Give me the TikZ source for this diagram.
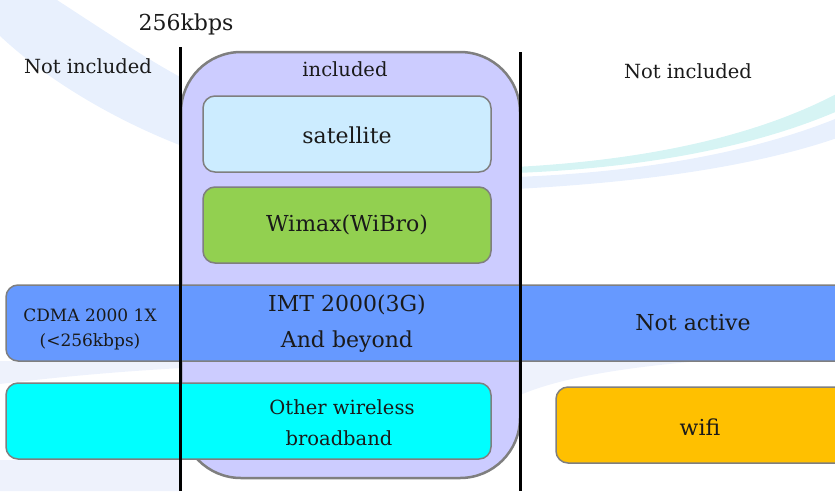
\documentclass[tikz,border=0pt]{standalone}
\usepackage{fontspec}
\setmainfont{DejaVu Serif}
\definecolor{lav}{HTML}{CCCCFF}
\definecolor{satc}{HTML}{CCECFF}
\definecolor{grn}{HTML}{92D050}
\definecolor{imtc}{HTML}{6699FF}
\definecolor{cyn}{HTML}{00FFFF}
\definecolor{org}{HTML}{FFC000}
\definecolor{boxgray}{HTML}{7F7F7F}
\definecolor{txt}{HTML}{1A1A1A}
\definecolor{swA}{HTML}{E8F0FD}
\definecolor{swB}{HTML}{D6F4F4}
\definecolor{swC}{HTML}{EEF2FC}
\begin{document}
\begin{tikzpicture}[x=1pt,y=-1pt,
  box/.style={draw=boxgray, line width=1.5pt, rounded corners=12pt, inner sep=0pt},
  lbl/.style={text=txt, inner sep=0pt, align=center},
  fbig/.style={font=\fontsize{22}{26}\selectfont},
  fmid/.style={font=\fontsize{19.5}{31}\selectfont},
  fsmall/.style={font=\fontsize{17}{27}\selectfont},
  divider/.style={line width=3pt, black}]
\useasboundingbox (0,0) rectangle (835,491);
\begin{scope}
\clip (0,0) rectangle (835,491);
% background swooshes
\fill[swA] (0,0) -- (57,0) .. controls (100,28) and (145,58) .. (182,78)
  -- (182,146) .. controls (110,118) and (45,78) .. (0,36) -- cycle;
\fill[swB] (515,167) .. controls (650,160) and (760,135) .. (840,92)
  -- (840,110) .. controls (760,145) and (650,168) .. (515,173) -- cycle;
\fill[swA] (515,177) .. controls (650,172) and (760,150) .. (840,117)
  -- (840,137) .. controls (760,165) and (650,182) .. (515,189) -- cycle;
\fill[swC] (0,361) -- (182,361) -- (182,368) .. controls (110,372) and (50,378) .. (0,384) -- cycle;
\fill[swC] (0,460) -- (182,460) -- (182,491) -- (0,491) -- (0,486) -- cycle;
\fill[swC] (520,361) -- (700,361) .. controls (620,368) and (560,378) .. (520,395) -- cycle;
% main shapes
\node[box, fill=lav, rounded corners=60pt, line width=2.5pt,
  minimum width=339pt, minimum height=426pt] (incl) at (350.5,265) {};
\node[box, fill=satc, minimum width=288pt, minimum height=76pt] (sat) at (347,134) {};
\node[box, fill=grn, minimum width=288pt, minimum height=76pt] (wimax) at (347,225) {};
\node[box, fill=imtc, minimum width=850pt, minimum height=76pt] (imt) at (431,323) {};
\node[box, fill=cyn, minimum width=485pt, minimum height=76pt] (other) at (248.5,421) {};
\node[box, fill=org, minimum width=300pt, minimum height=76pt] (wifi) at (706,425) {};
% dividers
\coordinate (l1) at (180,47);
\coordinate (l2) at (180,491);
\coordinate (r1) at (520,52);
\coordinate (r2) at (520,491);
\draw[divider] (l1) -- (l2);
\draw[divider] (r1) -- (r2);
\end{scope}
% labels
\node[lbl, fbig] (kbps) at (186,24) {256kbps};
\node[lbl, fmid] (ni1) at (88,66) {Not included};
\node[lbl, fmid] (ni2) at (688,71) {Not included};
\node[lbl, fmid] (inc) at (345,69) {included};
\node[lbl, fbig] (satt) at (347,135) {satellite};
\node[lbl, fbig] (wimt) at (347,225) {Wimax(WiBro)};
\node[lbl, fsmall] (cdma) at (90,315) {CDMA 2000 1X};
\node[lbl, fsmall] (cdmb) at (90,342) {(<256kbps)};
\node[lbl, fbig] (imta) at (347,305) {IMT 2000(3G)};
\node[lbl, fbig] (imtb) at (347,342) {And beyond};
\node[lbl, fbig] (nact) at (693,323) {Not active};
\node[lbl, fmid] (owa) at (342,407) {Other wireless};
\node[lbl, fmid] (owb) at (339,438) {broadband};
\node[lbl, fbig] (wifit) at (700,427) {wifi};
\end{tikzpicture}
\end{document}
